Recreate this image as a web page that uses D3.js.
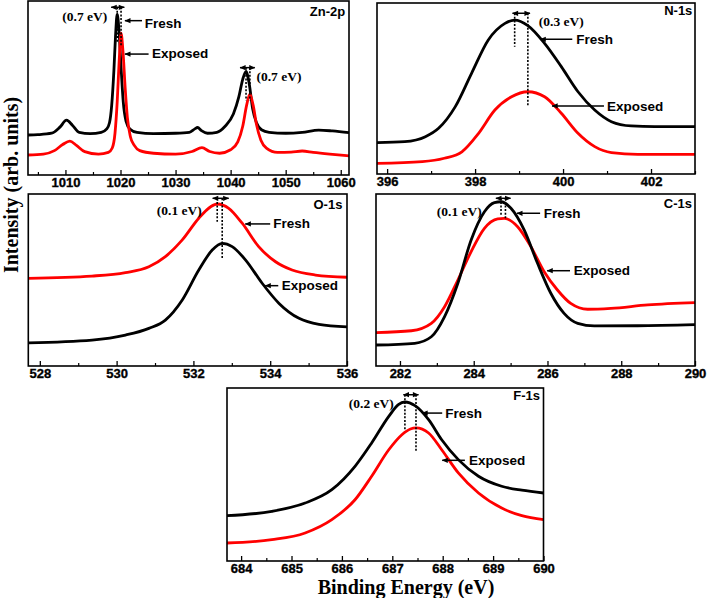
<!DOCTYPE html>
<html><head><meta charset="utf-8">
<script src="https://cdnjs.cloudflare.com/ajax/libs/d3/7.8.5/d3.min.js"></script>
<style>body{margin:0;background:#fff}svg{display:block}</style>
</head><body>
<script>
// ---------- DATA: [binding energy (eV), intensity (arb. units 0-100)] ----------
const znFresh = [[1003.2,23],[1005,23.2],[1007.5,24],[1009,27.5],[1010.2,31.5],[1011.3,28.5],[1012.5,24.5],[1014.5,23.8],[1016.5,24.5],[1017.5,26.5],[1018,30],[1018.4,40],[1018.8,60],[1019.1,80],[1019.4,92.5],[1019.75,82],[1020.1,62],[1020.5,42],[1021,31],[1021.7,26.5],[1023,24.5],[1026,23.8],[1030,24],[1032.5,24.5],[1033.5,26.5],[1034,27.3],[1034.7,25.5],[1035.8,24],[1037.5,24.5],[1039,28],[1040.5,35],[1041.5,45],[1042.2,55],[1042.8,59.5],[1043.4,52],[1044,38],[1044.7,30],[1045.6,26],[1047,24.5],[1050,24],[1053,24.5],[1056,25.8],[1058.5,25.3],[1061.5,24.3]];
const znExposed = [[1003.2,11.5],[1006,12],[1008,14],[1009.5,17.5],[1010.8,19.5],[1012,17],[1013.5,13.4],[1016,12],[1017.8,13],[1018.5,15.5],[1019,24],[1019.4,42],[1019.75,65],[1020.1,81.5],[1020.45,71],[1020.85,50],[1021.25,33],[1021.8,22],[1022.5,17],[1023.5,14],[1026,12.5],[1030,12],[1033,13.5],[1034.8,15.7],[1036.2,13.5],[1038,12.5],[1040,14.5],[1041.3,19],[1042.2,28],[1042.9,40],[1043.5,46.5],[1044.1,40],[1044.7,29],[1045.5,20],[1046.5,15.5],[1048.5,13],[1051,13.2],[1053,13.8],[1055,13],[1058,12],[1061.5,11]];

const nFresh = [[395.77,18.3],[396.4,18.9],[396.87,21.8],[397.17,26.7],[397.55,39.4],[397.92,58.9],[398.3,78.4],[398.68,88.1],[398.9,90],[399.2,86.8],[399.58,76.4],[399.96,62.8],[400.34,48.1],[400.72,37.4],[401.1,30.6],[401.55,28.1],[402.08,27.7],[403,27.7]];
const nExposed = [[395.77,6.2],[396.8,7.2],[397.3,9.2],[397.7,13],[398.08,23.8],[398.45,37.4],[398.83,45.2],[399.2,48.1],[399.58,45.2],[399.96,35.5],[400.34,23.8],[400.72,16],[401.1,12.5],[401.7,11.5],[403,11.5]];

const oFresh = [[527.7,51],[529.36,52.3],[530.23,54.3],[530.84,57.7],[531.27,63.6],[531.71,73.3],[532.14,85.9],[532.45,92.6],[532.62,94.2],[532.92,91.7],[533.27,83],[533.7,69.4],[534.14,60.6],[534.57,55.8],[535.18,52.9],[536,51.6]];
const oExposed = [[527.7,13.5],[529.36,15.1],[530.23,18],[530.84,21.9],[531.27,26.7],[531.71,38.4],[532.14,55.8],[532.49,67.4],[532.75,71.3],[533.01,69.4],[533.36,61.6],[533.79,48.1],[534.23,36.4],[534.75,27.7],[535.27,24.2],[536,22.8]];

const cFresh = [[281.35,12.2],[282.4,13.2],[282.85,17],[283.21,28.7],[283.57,48.1],[283.93,73.3],[284.29,89.7],[284.56,95],[284.74,95.5],[285.01,91.7],[285.37,79],[285.73,59.7],[286.09,42.3],[286.45,30.6],[286.82,24.8],[287.27,23.3],[288.44,23.4],[290,24]];
const cExposed = [[281.35,19.4],[282.31,20.5],[282.85,24.8],[283.21,34.5],[283.57,50],[283.93,66.5],[284.29,80],[284.65,85.5],[284.83,85.8],[285.19,81],[285.55,69.4],[285.91,54.8],[286.27,44.2],[286.63,36.4],[287.09,33],[287.72,33.5],[288.72,35.5],[290,36.8]];

const fFresh = [[683.72,26.2],[684.61,28.7],[685.27,33.5],[685.8,41.2],[686.26,54.7],[686.59,68.2],[686.93,83.6],[687.12,90.4],[687.25,91.9],[687.45,89.8],[687.72,81.7],[687.98,70.1],[688.31,58.6],[688.71,49],[689.17,43.2],[689.57,40.9],[690,39.3]];
const fExposed = [[683.72,10.4],[684.61,12.3],[685.27,16.2],[685.8,23.9],[686.26,35.4],[686.59,49],[686.93,64.3],[687.19,73],[687.36,76.3],[687.47,76.9],[687.72,74],[687.98,64.3],[688.31,50.9],[688.71,39.3],[689.17,30.6],[689.57,26.2],[690,23.9]];

// tick labels
const znTicks = [1010,1020,1030,1040,1050,1060];
const nTicks = [396,398,400,402];
const oTicks = [528,530,532,534,536];
const cTicks = [282,284,286,288,290];
const fTicks = [684,685,686,687,688,689,690];

const panelNames = ["Zn-2p","N-1s","O-1s","C-1s","F-1s"];
const shiftLabels = ["(0.7 eV)","(0.3 eV)","(0.1 eV)","(0.1 eV)","(0.2 eV)"];
const xTitle = "Binding Energy (eV)";
const yTitle = "Intensity (arb. units)";

// ---------- LAYOUT ----------
const W = 709, H = 598;
const svg = d3.select("body").append("svg").attr("width", W).attr("height", H);
const defs = svg.append("defs");
defs.append("marker").attr("id","ah").attr("viewBox","0 0 8 8").attr("refX",7.5).attr("refY",4)
  .attr("markerWidth",7).attr("markerHeight",6).attr("markerUnits","userSpaceOnUse")
  .attr("orient","auto-start-reverse")
  .append("path").attr("d","M0,0.5 L8,4 L0,7.5 Z").attr("fill","#000");

const panels = [
  {box:[28,1,349,175], dom:[1003.2,1061.5], ticks:znTicks, minor:5, series:[[znFresh,"#000"],[znExposed,"#ff0000"]],
   name:panelNames[0], nameAt:[1060.8,91.4],
   shifts:[{a:1018.3,b:1020.7,y:96.4,lines:[[1019.4,76],[1020.1,74]],label:shiftLabels[0],lx:1017.6,ly:88.5,anchor:"end"},
           {a:1041.7,b:1044.4,y:61.7,lines:[[1042.8,43],[1043.5,43]],label:shiftLabels[0],lx:1044.7,ly:54.3,anchor:"start"}],
   tags:[{t:"Fresh",x0:1023.9,x1:1020.8,y:88.7,tx:1024.4,ty:84.6},{t:"Exposed",x0:1025.1,x1:1020.8,y:69.5,tx:1025.7,ty:67}]},
  {box:[377,3,695,174], dom:[395.77,403], ticks:nTicks, minor:1, series:[[nFresh,"#000"],[nExposed,"#ff0000"]],
   name:panelNames[1], nameAt:[402.94,93],
   shifts:[{a:398.85,b:399.25,y:94,lines:[[398.9,74.4],[399.2,39.8]],label:shiftLabels[1],lx:399.45,ly:86.5,anchor:"start"}],
   tags:[{t:"Fresh",x0:400.21,x1:399.48,y:78.8,tx:400.3,ty:76.1},{t:"Exposed",x0:400.93,x1:399.75,y:39.8,tx:401.0,ty:36.8}]},
  {box:[28.3,194,347,366], dom:[527.7,536], ticks:oTicks, minor:1, series:[[oFresh,"#ff0000"],[oExposed,"#000"]],
   name:panelNames[2], nameAt:[535.88,91],
   shifts:[{a:532.5,b:532.92,y:97.5,lines:[[532.62,83.9],[532.75,62.6]],label:shiftLabels[2],lx:532.22,ly:87.8,anchor:"end"}],
   tags:[{t:"Fresh",x0:534.0,x1:533.35,y:82.6,tx:534.08,ty:80},{t:"Exposed",x0:534.21,x1:533.87,y:46.7,tx:534.3,ty:44.2}]},
  {box:[376,194,695,366], dom:[281.35,290], ticks:cTicks, minor:1, series:[[cExposed,"#ff0000"],[cFresh,"#000"]],
   name:panelNames[3], nameAt:[289.92,91.6],
   shifts:[{a:284.6,b:285.0,y:97.5,lines:[[284.74,87.8],[284.86,84.9]],label:shiftLabels[3],lx:284.22,ly:87.2,anchor:"end"}],
   tags:[{t:"Fresh",x0:285.8,x1:285.17,y:88.8,tx:285.9,ty:86.2},{t:"Exposed",x0:286.61,x1:285.99,y:55.4,tx:286.71,ty:52.9}]},
  {box:[227,388,543.5,561], dom:[683.72,690], ticks:fTicks, minor:0.5, series:[[fFresh,"#000"],[fExposed,"#ff0000"]],
   name:panelNames[4], nameAt:[689.93,93],
   shifts:[{a:687.22,b:687.52,y:96.1,lines:[[687.25,75.9],[687.47,63.4]],label:shiftLabels[4],lx:687.03,ly:88.4,anchor:"end"}],
   tags:[{t:"Fresh",x0:687.99,x1:687.59,y:85.5,tx:688.05,ty:82.9},{t:"Exposed",x0:688.44,x1:687.99,y:58.2,tx:688.52,ty:55.6}]}
];

const sansB = "'Liberation Sans', Arial, sans-serif";
const serifB = "'Liberation Serif', 'Times New Roman', serif";

panels.forEach(p => {
  const [x0,y0,x1,y1] = p.box;
  const x = d3.scaleLinear().domain(p.dom).range([x0,x1]);
  const y = d3.scaleLinear().domain([0,100]).range([y1,y0]);
  const g = svg.append("g");

  // curves
  const line = d3.line().x(d=>x(d[0])).y(d=>y(d[1])).curve(d3.curveMonotoneX);
  const clipId = "clip"+Math.round(x0)+"_"+Math.round(y0);
  defs.append("clipPath").attr("id",clipId).append("rect").attr("x",x0).attr("y",y0-1).attr("width",x1-x0).attr("height",y1-y0+1);
  p.series.forEach(([data,col]) => {
    g.append("path").datum(data).attr("d",line).attr("fill","none").attr("stroke",col)
      .attr("stroke-width",2.8).attr("stroke-linejoin","round").attr("clip-path","url(#"+clipId+")");
  });

  // bottom axis: ticks inward + minor
  const minorTicks = d3.range(Math.ceil(p.dom[0]/p.minor)*p.minor, p.dom[1]+1e-9, p.minor)
      .filter(v => !p.ticks.some(t => Math.abs(t-v)<1e-9));
  const ax = d3.axisBottom(x).tickValues(p.ticks).tickSize(-5).tickPadding(3).tickFormat(d3.format("d"));
  const axG = g.append("g").attr("transform",`translate(0,${y1})`).call(ax);
  axG.select(".domain").remove();
  axG.selectAll(".tick line").attr("stroke","#000").attr("stroke-width",1.3);
  axG.selectAll(".tick text").attr("font-family",sansB).attr("font-weight","bold").attr("font-size",13)
    .attr("fill","#000").attr("stroke","#000").attr("stroke-width",0.35);
  const axM = d3.axisBottom(x).tickValues(minorTicks).tickSize(-3).tickFormat("");
  const axMG = g.append("g").attr("transform",`translate(0,${y1})`).call(axM);
  axMG.select(".domain").remove();
  axMG.selectAll(".tick line").attr("stroke","#000").attr("stroke-width",1.2);

  // frame
  g.append("rect").attr("x",x0).attr("y",y0).attr("width",x1-x0).attr("height",y1-y0)
    .attr("fill","none").attr("stroke","#000").attr("stroke-width",1.6);

  // panel name
  g.append("text").attr("x",x(p.nameAt[0])).attr("y",y(p.nameAt[1])).attr("text-anchor","end")
    .attr("font-family",sansB).attr("font-weight","bold").attr("font-size",13).text(p.name);

  // shift annotations
  p.shifts.forEach(s => {
    s.lines.forEach(([e,bot]) => {
      g.append("line").attr("x1",x(e)).attr("x2",x(e)).attr("y1",y(s.y)).attr("y2",y(bot))
        .attr("stroke","#000").attr("stroke-width",1.6).attr("stroke-dasharray","2,1.6");
    });
    g.append("line").attr("x1",x(s.a)).attr("x2",x(s.b)).attr("y1",y(s.y)).attr("y2",y(s.y))
      .attr("stroke","#000").attr("stroke-width",1.5)
      .attr("marker-start","url(#ah)").attr("marker-end","url(#ah)");
    g.append("text").attr("x",x(s.lx)).attr("y",y(s.ly)).attr("text-anchor",s.anchor)
      .attr("font-family",serifB).attr("font-weight","bold").attr("font-size",13.5).text(s.label);
  });

  // Fresh / Exposed tags
  p.tags.forEach(t => {
    g.append("line").attr("x1",x(t.x0)).attr("x2",x(t.x1)).attr("y1",y(t.y)).attr("y2",y(t.y))
      .attr("stroke","#000").attr("stroke-width",1.5).attr("marker-end","url(#ah)");
    g.append("text").attr("x",x(t.tx)).attr("y",y(t.ty)).attr("font-family",sansB)
      .attr("font-weight","bold").attr("font-size",13.5).text(t.t);
  });
});

// axis titles
svg.append("text").attr("transform","translate(18,185) rotate(-90)").attr("text-anchor","middle")
  .attr("font-family",serifB).attr("font-weight","bold").attr("font-size",20).text(yTitle);
svg.append("text").attr("x",406).attr("y",594).attr("text-anchor","middle")
  .attr("font-family",serifB).attr("font-weight","bold").attr("font-size",20).text(xTitle);
</script>
</body></html>
